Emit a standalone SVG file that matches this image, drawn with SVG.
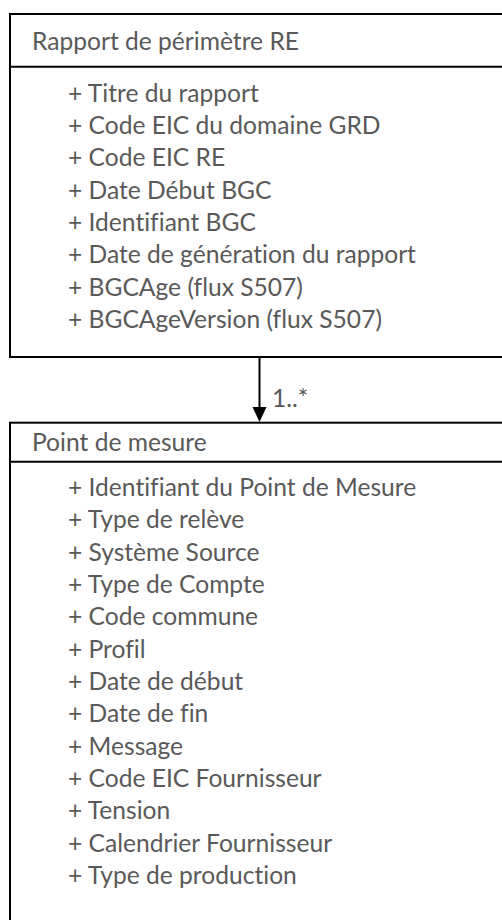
<svg xmlns="http://www.w3.org/2000/svg" width="502" height="920" viewBox="0 0 502 920">
<style>
.box{fill:#ffffff;stroke:#000000;stroke-width:2}
.div{stroke:#000000;stroke-width:2}
.t{font-family:Lato,"Open Sans","Liberation Sans",sans-serif;font-size:24.6px;fill:#595959;font-variant-ligatures:none;font-feature-settings:"liga" 0,"dlig" 0}
.conn{stroke:#000000;stroke-width:2;fill:none}
</style>
<rect width="502" height="920" fill="#ffffff"/>
<g id="rapport">
<rect class="box" x="10" y="14" width="510" height="343"/>
<line class="div" x1="10" y1="66.7" x2="520" y2="66.7"/>
<text class="t" x="32" y="50">Rapport de périmètre RE</text>
<text class="t" x="68" y="101.7">+ Titre du rapport</text>
<text class="t" x="68" y="134">+ Code EIC du domaine GRD</text>
<text class="t" x="68" y="166.4">+ Code EIC RE</text>
<text class="t" x="68" y="198.7">+ Date Début BGC</text>
<text class="t" x="68" y="231">+ Identifiant BGC</text>
<text class="t" x="68" y="263.3">+ Date de génération du rapport</text>
<text class="t" x="68" y="295.7">+ BGCAge (flux S507)</text>
<text class="t" x="68" y="328">+ BGCAgeVersion (flux S507)</text>
</g>
<g id="point">
<rect class="box" x="10" y="422.7" width="510" height="520"/>
<line class="div" x1="10" y1="461.7" x2="520" y2="461.7"/>
<text class="t" x="32" y="451">Point de mesure</text>
<text class="t" x="68" y="496">+ Identifiant du Point de Mesure</text>
<text class="t" x="68" y="528.3">+ Type de relève</text>
<text class="t" x="68" y="560.7">+ Système Source</text>
<text class="t" x="68" y="593">+ Type de Compte</text>
<text class="t" x="68" y="625.3">+ Code commune</text>
<text class="t" x="68" y="657.7">+ Profil</text>
<text class="t" x="68" y="690">+ Date de début</text>
<text class="t" x="68" y="722.3">+ Date de fin</text>
<text class="t" x="68" y="754.7">+ Message</text>
<text class="t" x="68" y="787">+ Code EIC Fournisseur</text>
<text class="t" x="68" y="819.3">+ Tension</text>
<text class="t" x="68" y="851.7">+ Calendrier Fournisseur</text>
<text class="t" x="68" y="884">+ Type de production</text>
</g>
<g id="connectors">
<line class="conn" x1="259.5" y1="357" x2="259.5" y2="408"/>
<path d="M252.5,407 L266.5,407 L259.5,422 Z" fill="#000000"/>
<text class="t" x="272" y="407">1..*</text>
</g>
</svg>
